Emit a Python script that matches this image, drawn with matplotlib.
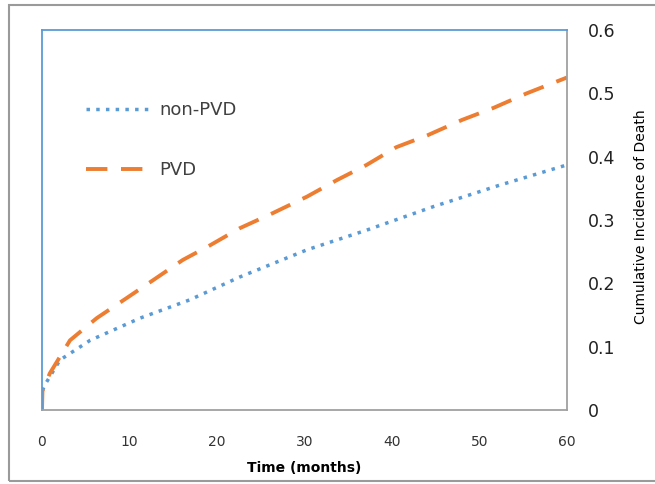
import matplotlib
matplotlib.use("Agg")
import matplotlib.pyplot as plt
from matplotlib.patches import Rectangle

# non-PVD curve
t_non = [0, 0.02, 0.34, 2.06, 5.5, 11.2, 16.9, 22.6, 30.3, 37.1, 44.7, 52.3, 60]
v_non = [0, 0.030, 0.040, 0.079, 0.110, 0.145, 0.174, 0.210, 0.253, 0.284, 0.321, 0.355, 0.387]

# PVD curve
t_pvd = [0, 0.05, 0.9, 3.2, 6.25, 9.7, 12.7, 16.1, 19.2, 22.6, 26.4, 30.3, 33.7,
         37.1, 40.5, 44.1, 48.0, 51.6, 55.4, 60]
v_pvd = [0, 0.030, 0.058, 0.110, 0.145, 0.177, 0.205, 0.237, 0.260, 0.287, 0.311,
         0.337, 0.363, 0.387, 0.415, 0.434, 0.458, 0.477, 0.500, 0.525]

x_ticks = [0, 10, 20, 30, 40, 50, 60]
y_ticks = [0, 0.1, 0.2, 0.3, 0.4, 0.5, 0.6]
y_labels = ["0", "0.1", "0.2", "0.3", "0.4", "0.5", "0.6"]

blue = "#5B9BD5"
orange = "#ED7D31"

fig = plt.figure(figsize=(6.55, 4.84), dpi=100)
fig.patches.append(Rectangle((9 / 655, 3 / 484), 1.0, 1 - 8 / 484, transform=fig.transFigure,
                             fill=False, edgecolor="#9a9a9a", linewidth=1.5))
ax = fig.add_axes([42 / 655, 74 / 484, 525 / 655, 380 / 484])

ax.plot(t_non, v_non, color=blue, linestyle=(0, (1, 1.8)), linewidth=2.5, label="non-PVD")
ax.plot(t_pvd, v_pvd, color=orange, linestyle=(0, (5.5, 3.5)), linewidth=2.8, label="PVD")

ax.set_xlim(0, 60)
ax.set_ylim(0, 0.6)
ax.set_xticks(x_ticks)
ax.set_yticks(y_ticks)
ax.set_yticklabels(y_labels)
ax.yaxis.tick_right()
ax.yaxis.set_label_position("right")
ax.tick_params(axis="y", length=0, pad=15, labelsize=12.5, colors="#222222")
ax.tick_params(axis="x", length=0, pad=18, labelsize=10, colors="#333333")

ax.spines["left"].set_color(blue)
ax.spines["top"].set_color(blue)
ax.spines["right"].set_color("#a0a0a0")
ax.spines["bottom"].set_color("#a0a0a0")
for s in ax.spines.values():
    s.set_linewidth(1.3)

ax.set_xlabel("Time (months)", fontsize=10, fontweight="bold", labelpad=9)
ax.set_ylabel("Cumulative Incidence of Death", fontsize=10)
ax.yaxis.set_label_coords(1.128, 0.51)

leg = ax.legend(loc="upper left", bbox_to_anchor=(0.052, 0.855), frameon=False,
                fontsize=13, handlelength=3.6, labelspacing=2.3, handletextpad=0.5)
for txt in leg.get_texts():
    txt.set_color("#404040")

fig.savefig("out.png", dpi=100)
